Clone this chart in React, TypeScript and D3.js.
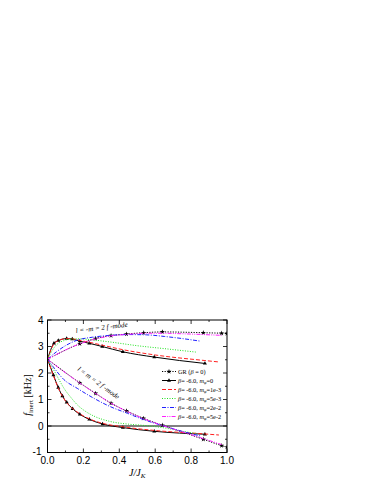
import * as d3 from 'd3';

// J/J_K and f_inert [kHz], one array per branch
const grUpper: [number, number][] = [[0, 2.52], [0.18, 3.1], [0.268, 3.3], [0.354, 3.41], [0.44, 3.47], [0.536, 3.52], [0.64, 3.55], [0.868, 3.52], [0.97, 3.5], [1.0, 3.49]];
const grLower: [number, number][] = [[0, 2.52], [0.18, 1.63], [0.268, 1.23], [0.354, 0.86], [0.44, 0.57], [0.534, 0.29], [0.64, 0.03], [0.868, -0.5], [0.97, -0.74], [1.0, -0.8]];

const m0Upper: [number, number][] = [[0, 2.52], [0.036, 3.12], [0.06, 3.22], [0.107, 3.3], [0.138, 3.28], [0.18, 3.2], [0.233, 3.12], [0.305, 3.0], [0.42, 2.8], [0.595, 2.6], [0.877, 2.36]];
const m0Lower: [number, number][] = [[0, 2.52], [0.033, 1.92], [0.06, 1.45], [0.083, 1.13], [0.107, 0.89], [0.14, 0.65], [0.18, 0.44], [0.233, 0.25], [0.307, 0.075], [0.42, -0.06], [0.595, -0.2], [0.877, -0.31]];

const m1e3Upper: [number, number][] = [[0, 2.52], [0.036, 3.1], [0.06, 3.22], [0.107, 3.3], [0.14, 3.29], [0.18, 3.23], [0.233, 3.16], [0.305, 3.05], [0.42, 2.88], [0.6, 2.68], [0.877, 2.47], [0.95, 2.42]];
const m1e3Lower: [number, number][] = [[0, 2.52], [0.033, 1.9], [0.06, 1.43], [0.083, 1.12], [0.107, 0.88], [0.14, 0.66], [0.18, 0.46], [0.233, 0.27], [0.307, 0.1], [0.42, -0.03], [0.6, -0.17], [0.877, -0.3], [0.955, -0.34]];

const m5e3Upper: [number, number][] = [[0, 2.52], [0.036, 2.95], [0.06, 3.12], [0.09, 3.22], [0.13, 3.28], [0.18, 3.29], [0.25, 3.25], [0.35, 3.17], [0.5, 3.03], [0.65, 2.92], [0.826, 2.79]];
const m5e3Lower: [number, number][] = [[0, 2.52], [0.036, 2.1], [0.06, 1.8], [0.092, 1.42], [0.13, 1.08], [0.166, 0.8], [0.21, 0.56], [0.26, 0.37], [0.35, 0.17], [0.45, 0.07], [0.54, 0.02], [0.65, -0.07], [0.75, -0.2], [0.826, -0.28]];

const m2e2Upper: [number, number][] = [[0, 2.52], [0.05, 2.8], [0.1, 3.03], [0.166, 3.24], [0.25, 3.35], [0.35, 3.42], [0.45, 3.45], [0.55, 3.44], [0.65, 3.38], [0.75, 3.3], [0.853, 3.2]];
const m2e2Lower: [number, number][] = [[0, 2.52], [0.03, 2.25], [0.09, 1.76], [0.166, 1.42], [0.26, 1.04], [0.35, 0.73], [0.445, 0.48], [0.54, 0.23], [0.63, 0.04], [0.75, -0.2], [0.853, -0.38]];

const m5e2Upper: [number, number][] = [[0, 2.52], [0.18, 3.1], [0.354, 3.4], [0.45, 3.46], [0.54, 3.5], [0.64, 3.5], [0.75, 3.48], [0.87, 3.45], [0.97, 3.42]];
const m5e2Lower: [number, number][] = [[0, 2.52], [0.18, 1.62], [0.27, 1.22], [0.354, 0.86], [0.44, 0.56], [0.534, 0.28], [0.64, 0.02], [0.75, -0.22], [0.87, -0.48], [0.97, -0.7]];

const legendLabels = ['GR (β = 0)', 'β= -6.0, m_φ=0', 'β= -6.0, m_φ=1e-3', 'β= -6.0, m_φ=5e-3', 'β= -6.0, m_φ=2e-2', 'β= -6.0, m_φ=5e-2'];
const xTicks = [0, 0.2, 0.4, 0.6, 0.8, 1.0];
const yTicks = [-1, 0, 1, 2, 3, 4];

const series = [
  { upper: grUpper, lower: grLower, color: '#000', dash: '1.2,1.4', marker: 'star' },
  { upper: m0Upper, lower: m0Lower, color: '#000', dash: null, marker: 'tri' },
  { upper: m1e3Upper, lower: m1e3Lower, color: '#ff2020', dash: '4,2', marker: null },
  { upper: m5e3Upper, lower: m5e3Lower, color: '#20e020', dash: '1,1.5', marker: null },
  { upper: m2e2Upper, lower: m2e2Lower, color: '#2020ff', dash: '4,1.5,1,1.5', marker: null },
  { upper: m5e2Upper, lower: m5e2Lower, color: '#ff20ff', dash: '4,1.2,1,1.2,1,1.2', marker: null },
];

const W = 374, H = 484;
const x = d3.scaleLinear().domain([0, 1]).range([47.5, 227]);
const y = d3.scaleLinear().domain([-1, 4]).range([452.5, 320]);

const line = d3.line<[number, number]>().x(d => x(d[0])).y(d => y(d[1])).curve(d3.curveMonotoneX);
const star = d3.symbol().type(d3.symbolStar).size(8)();
const tri = d3.symbol().type(d3.symbolTriangle).size(7)();

function legendText(label: string) {
  const i = label.indexOf('m_φ');
  return (
    <>
      <tspan fontStyle="italic">β</tspan>
      <tspan>{label.slice(1, i)}</tspan>
      <tspan fontStyle="italic">m</tspan>
      <tspan fontSize="0.7em" dy="1.5" fontStyle="italic">φ</tspan>
      <tspan dy="-1.5">{label.slice(i + 3)}</tspan>
    </>
  );
}

export default function App() {
  const [x0, x1] = x.range();
  const [y0, y1] = y.range();
  const xMinor = d3.range(0, 1.0001, 0.1);
  const yMinor = d3.range(-1, 4.0001, 0.5);
  const font = 'Liberation Sans, Arial, sans-serif';
  const serif = 'Liberation Serif, Times New Roman, serif';
  const legX = 162, legY = 371.5, legStep = 9;

  return (
    <svg width={W} height={H} style={{ position: 'absolute', left: 0, top: 0, background: '#fff' }}>
      <defs>
        <clipPath id="plot"><rect x={x0} y={y1} width={x1 - x0} height={y0 - y1} /></clipPath>
      </defs>

      {/* zero line */}
      <line x1={x0} x2={x1} y1={y(0)} y2={y(0)} stroke="#000" strokeWidth={1} />

      <g clipPath="url(#plot)">
        {series.map((s, i) => (
          <g key={i}>
            {[s.upper, s.lower].map((d, j) => (
              <path key={j} d={line(d) || ''} fill="none" stroke={s.color} strokeWidth={1}
                strokeDasharray={s.dash || undefined} />
            ))}
            {s.marker && [...s.upper.slice(1), ...s.lower.slice(1)].map((d, k) => (
              <path key={'m' + k} d={s.marker === 'star' ? star : tri} fill="#000"
                transform={`translate(${x(d[0])},${y(d[1])})`} />
            ))}
          </g>
        ))}
      </g>

      {/* frame and ticks */}
      <rect x={x0} y={y1} width={x1 - x0} height={y0 - y1} fill="none" stroke="#000" strokeWidth={1} />
      {xMinor.map((t, i) => {
        const len = i % 2 === 0 ? 4 : 2;
        return (
          <g key={'xt' + i}>
            <line x1={x(t)} x2={x(t)} y1={y0} y2={y0 - len} stroke="#000" strokeWidth={0.8} />
            <line x1={x(t)} x2={x(t)} y1={y1} y2={y1 + len} stroke="#000" strokeWidth={0.8} />
          </g>
        );
      })}
      {yMinor.map((t, i) => {
        const len = i % 2 === 0 ? 4 : 2;
        return (
          <g key={'yt' + i}>
            <line x1={x0} x2={x0 + len} y1={y(t)} y2={y(t)} stroke="#000" strokeWidth={0.8} />
            <line x1={x1} x2={x1 - len} y1={y(t)} y2={y(t)} stroke="#000" strokeWidth={0.8} />
          </g>
        );
      })}
      {xTicks.map(t => (
        <text key={'xl' + t} x={x(t)} y={y0 + 11} fontSize={10} fontFamily={font} textAnchor="middle">{t.toFixed(1)}</text>
      ))}
      {yTicks.map(t => (
        <text key={'yl' + t} x={x0 - (t < 0 ? 6 : 4)} y={y(t) + (t < 0 ? 2 : 3.5)} fontSize={10} fontFamily={font} textAnchor="end">{t}</text>
      ))}

      {/* axis titles */}
      <text x={(x0 + x1) / 2} y={476} fontSize={10} fontFamily={serif} textAnchor="middle" fontStyle="italic">
        J/J<tspan fontSize="7" dy="2">K</tspan>
      </text>
      <text transform={`translate(31,395) rotate(-90)`} fontSize={10} fontFamily={serif} textAnchor="middle">
        <tspan fontStyle="italic">f</tspan><tspan fontSize="7" dy="2">inert</tspan><tspan dy="-2">  [kHz]</tspan>
      </text>

      {/* mode annotations */}
      <text transform={`translate(76,333) rotate(-7)`} fontSize={7} fontFamily={serif} fontStyle="italic">
        l = -m = 2 f -mode
      </text>
      <text transform={`translate(77,370) rotate(36)`} fontSize={7} fontFamily={serif} fontStyle="italic">
        l = m = 2 f -mode
      </text>

      {/* legend */}
      {series.map((s, i) => {
        const ly = legY + i * legStep;
        return (
          <g key={'lg' + i}>
            <line x1={legX} x2={legX + 14} y1={ly} y2={ly} stroke={s.color} strokeWidth={1}
              strokeDasharray={s.dash || undefined} />
            {s.marker && <path d={s.marker === 'star' ? star : tri} fill="#000" transform={`translate(${legX + 7},${ly})`} />}
            <text x={legX + 16} y={ly + 2.3} fontSize={6.3} fontFamily={serif}>
              {i === 0 ? <>GR (<tspan fontStyle="italic">β</tspan> = 0)</> : legendText(legendLabels[i])}
            </text>
          </g>
        );
      })}
    </svg>
  );
}
